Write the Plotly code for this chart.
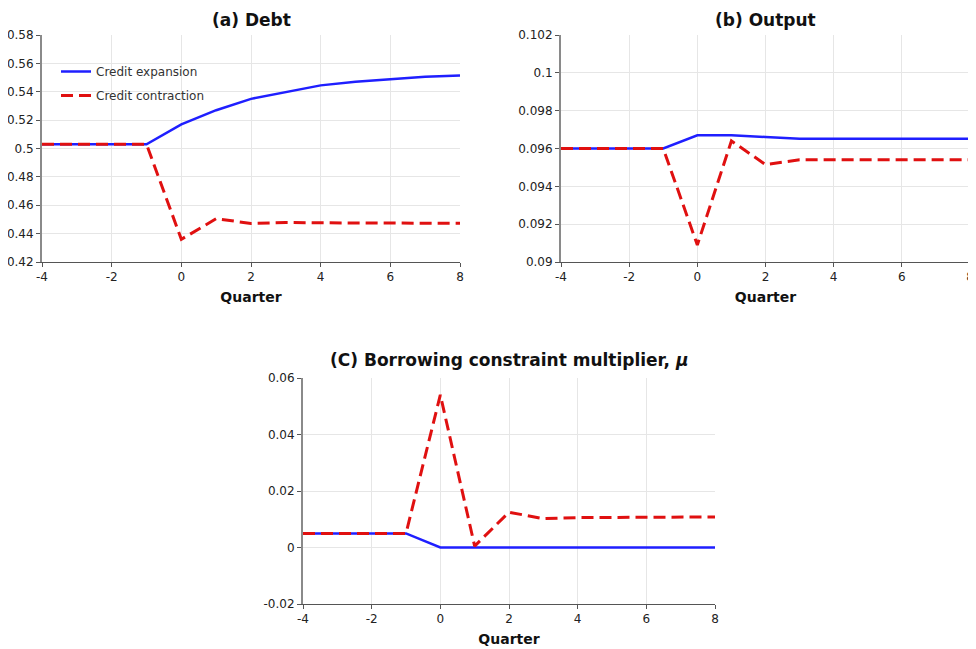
import plotly.graph_objects as go

quarters = [-4, -3, -2, -1, 0, 1, 2, 3, 4, 5, 6, 7, 8]

debt_expansion = [0.503, 0.503, 0.503, 0.503, 0.517, 0.527, 0.535, 0.540, 0.5445, 0.547, 0.549, 0.5505, 0.5515]
debt_contraction = [0.503, 0.503, 0.503, 0.503, 0.436, 0.4505, 0.4472, 0.4478, 0.4476, 0.4475, 0.4474, 0.4473, 0.4473]

output_expansion = [0.0960, 0.0960, 0.0960, 0.0960, 0.0967, 0.0967, 0.09661, 0.09652, 0.09652, 0.09652, 0.09652, 0.09652, 0.09652]
output_contraction = [0.0960, 0.0960, 0.0960, 0.0960, 0.0909, 0.0964, 0.09515, 0.09540, 0.09540, 0.09540, 0.09540, 0.09540, 0.09540]

mu_expansion = [0.005, 0.005, 0.005, 0.005, 0.0, 0.0, 0.0, 0.0, 0.0, 0.0, 0.0, 0.0, 0.0]
mu_contraction = [0.005, 0.005, 0.005, 0.005, 0.054, 0.0005, 0.0125, 0.0102, 0.0106, 0.0107, 0.0107, 0.0108, 0.0108]

titles = ["(a) Debt", "(b) Output", "(C) Borrowing constraint multiplier, <i>μ</i>"]

OFF = 8  # page body margin
W, H = 976 - OFF, 649 - OFF
BLUE = "#1f1fff"
RED = "#e01010"
FONT = "DejaVu Sans"

fig = go.Figure()

panels = [
    ("x", "y", debt_expansion, debt_contraction, True),
    ("x2", "y2", output_expansion, output_contraction, False),
    ("x3", "y3", mu_expansion, mu_contraction, False),
]
for xa, ya, e, c, leg in panels:
    fig.add_trace(go.Scatter(x=quarters, y=e, mode="lines", name="Credit expansion", legendgroup="exp",
                             line=dict(color=BLUE, width=2.5), xaxis=xa, yaxis=ya, showlegend=leg))
    fig.add_trace(go.Scatter(x=quarters, y=c, mode="lines", name="Credit contraction", legendgroup="con",
                             line=dict(color=RED, width=3, dash="12px,6px"), xaxis=xa, yaxis=ya, showlegend=leg))

def px_x(p):
    return (p - OFF) / W

def px_y(p):
    return 1 - (p - OFF) / H

common_x = dict(range=[-4, 8], tickvals=[-4, -2, 0, 2, 4, 6, 8], ticktext=["-4", "-2", "0", "2", "4", "6", "8"],
                showgrid=True, gridcolor="#e6e6e6", gridwidth=1, zeroline=False, automargin=False,
                showline=True, linecolor="#555555", linewidth=1, ticks="outside", ticklen=4, tickcolor="#555555",
                tickfont=dict(family=FONT, size=12, color="#222222"),
                title=dict(text="<b>Quarter</b>", font=dict(family=FONT, size=14, color="#111111"), standoff=8),
                mirror=False)
common_y = dict(showgrid=True, gridcolor="#e6e6e6", gridwidth=1, zeroline=False, automargin=False,
                showline=True, linecolor="#8a8a8a", linewidth=2, ticks="outside", ticklen=4, tickcolor="#555555",
                tickfont=dict(family=FONT, size=12, color="#222222"))

fig.update_layout(
    width=W, height=H,
    margin=dict(l=0, r=0, t=0, b=0),
    paper_bgcolor="white", plot_bgcolor="white",
    font=dict(family=FONT, size=12, color="#222222"),
    xaxis=dict(domain=[px_x(42), px_x(460)], anchor="y", **common_x),
    yaxis=dict(domain=[px_y(262), px_y(35)], anchor="x", range=[0.42, 0.58],
               tickvals=[0.42, 0.44, 0.46, 0.48, 0.5, 0.52, 0.54, 0.56, 0.58],
               ticktext=["0.42", "0.44", "0.46", "0.48", "0.5", "0.52", "0.54", "0.56", "0.58"], **common_y),
    xaxis2=dict(domain=[px_x(561), px_x(970)], anchor="y2", **common_x),
    yaxis2=dict(domain=[px_y(262), px_y(35)], anchor="x2", range=[0.09, 0.102],
                tickvals=[0.09, 0.092, 0.094, 0.096, 0.098, 0.1, 0.102],
                ticktext=["0.09", "0.092", "0.094", "0.096", "0.098", "0.1", "0.102"], **common_y),
    xaxis3=dict(domain=[px_x(303), px_x(715)], anchor="y3", **common_x),
    yaxis3=dict(domain=[px_y(604), px_y(378)], anchor="x3", range=[-0.02, 0.06],
                tickvals=[-0.02, 0, 0.02, 0.04, 0.06],
                ticktext=["-0.02", "0", "0.02", "0.04", "0.06"], **common_y),
    legend=dict(x=px_x(56), y=px_y(57), xanchor="left", yanchor="top",
                bgcolor="rgba(0,0,0,0)", borderwidth=0, traceorder="grouped",
                font=dict(family=FONT, size=12, color="#333333"),
                tracegroupgap=5, itemwidth=30),
    showlegend=True,
)

title_pos = [((42 + 460) / 2, 8), ((561 + 970) / 2, 8), ((303 + 715) / 2, 348)]
for t, (cx, cy) in zip(titles, title_pos):
    fig.add_annotation(text=f"<b>{t}</b>", x=px_x(cx), y=px_y(cy), xref="paper", yref="paper",
                       xanchor="center", yanchor="top", showarrow=False,
                       font=dict(family=FONT, size=17, color="#111111"))

fig.write_html("out.html")
